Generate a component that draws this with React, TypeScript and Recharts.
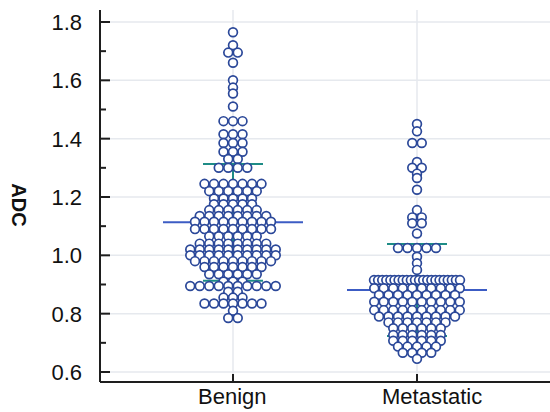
import React from "react";
import { ComposedChart, Scatter, XAxis, YAxis, CartesianGrid } from "recharts";

const categories = ["Benign", "Metastatic"];

// ADC values (equal values form one row)
const benign = [
  1.765, 1.72, 1.695, 1.695, 1.66, 1.6, 1.575, 1.555, 1.51,
  1.46, 1.46, 1.46, 1.415, 1.415, 1.415, 1.385, 1.385, 1.385,
  1.355, 1.355, 1.355, 1.33, 1.33, 1.3, 1.3, 1.3, 1.3,
  1.245, 1.245, 1.245, 1.245, 1.245, 1.245, 1.245,
  1.22, 1.22, 1.22, 1.22, 1.22, 1.22,
  1.195, 1.195, 1.195, 1.195, 1.195,
  1.175, 1.175, 1.175, 1.175, 1.175,
  1.155, 1.155, 1.155, 1.155, 1.155, 1.155,
  1.135, 1.135, 1.135, 1.135, 1.135, 1.135, 1.135, 1.135,
  1.115, 1.115, 1.115, 1.115, 1.115, 1.115, 1.115, 1.115, 1.115,
  1.09, 1.09, 1.09, 1.09, 1.09, 1.09, 1.09, 1.09, 1.09,
  1.065, 1.065, 1.065, 1.065, 1.065, 1.065,
  1.04, 1.04, 1.04, 1.04, 1.04, 1.04, 1.04, 1.04,
  1.02, 1.02, 1.02, 1.02, 1.02, 1.02, 1.02, 1.02, 1.02, 1.02,
  1.0, 1.0, 1.0, 1.0, 1.0, 1.0, 1.0, 1.0, 1.0, 1.0,
  0.98, 0.98, 0.98, 0.98, 0.98, 0.98, 0.98, 0.98, 0.98,
  0.96, 0.96, 0.96, 0.96, 0.96, 0.96, 0.96,
  0.935, 0.935, 0.935, 0.935, 0.935, 0.935,
  0.91, 0.91, 0.91,
  0.895, 0.895, 0.895, 0.895, 0.895, 0.895, 0.895, 0.895, 0.895, 0.895,
  0.875, 0.875, 0.855, 0.855, 0.855,
  0.835, 0.835, 0.835, 0.835, 0.835, 0.835, 0.835,
  0.81, 0.785, 0.785,
];

const metastatic = [
  1.45, 1.425, 1.385, 1.385, 1.32, 1.3, 1.3, 1.28, 1.265, 1.225,
  1.155, 1.13, 1.13, 1.11, 1.11, 1.075,
  1.025, 1.025, 1.025, 1.025, 1.025,
  0.995, 0.973, 0.95,
  0.915, 0.915, 0.915, 0.915, 0.915, 0.915, 0.915, 0.915, 0.915, 0.915, 0.915,
  0.915, 0.915, 0.915, 0.915, 0.915, 0.915, 0.915, 0.915, 0.915, 0.915, 0.915,
  0.887, 0.887, 0.887, 0.887, 0.887, 0.887, 0.887, 0.887, 0.887, 0.887,
  0.864, 0.864, 0.864, 0.864, 0.864, 0.864, 0.864, 0.864, 0.864,
  0.841, 0.841, 0.841, 0.841, 0.841, 0.841, 0.841, 0.841, 0.841, 0.841,
  0.812, 0.812, 0.812, 0.812, 0.812, 0.812, 0.812, 0.812, 0.812, 0.812,
  0.79, 0.79, 0.79, 0.79, 0.79, 0.79, 0.79, 0.79, 0.79,
  0.77, 0.77, 0.77, 0.77, 0.77, 0.77, 0.77,
  0.75, 0.75, 0.75, 0.75, 0.75, 0.75,
  0.727, 0.727, 0.727, 0.727, 0.727, 0.727,
  0.707, 0.707, 0.707, 0.707, 0.707, 0.707,
  0.687, 0.687, 0.687, 0.687, 0.687,
  0.666, 0.666, 0.666, 0.666,
  0.645,
];

// mean and SD as marked on the plot
const means = [1.113, 0.881];
const sds = [0.2, 0.158];

const yTicks = [0.6, 0.7, 0.8, 0.9, 1.0, 1.1, 1.2, 1.3, 1.4, 1.5, 1.6, 1.7, 1.8];
const yMajor = [0.6, 0.8, 1.0, 1.2, 1.4, 1.6, 1.8];

const X_DOMAIN: [number, number] = [0.2772, 2.7228];
const Y_DOMAIN: [number, number] = [0.5657, 1.8411];
const PLOT_W = 450;
const PX_PER_X = PLOT_W / (X_DOMAIN[1] - X_DOMAIN[0]);

const DOT = "#2b4899";
const MEAN = "#3c5cc4";
const SD = "#1e8c86";
const AXIS = "#1e1e1e";
const FONT = "Arial, 'Liberation Sans', sans-serif";

// lay tied values out as centred rows, squeezing rows that get too wide
function dotRows(values: number[], cat: number) {
  const groups = new Map<number, number>();
  values.forEach((v) => groups.set(v, (groups.get(v) || 0) + 1));
  const pts: { x: number; y: number }[] = [];
  groups.forEach((n, v) => {
    const step = n > 1 ? Math.min(9.5, 86 / (n - 1)) : 0;
    for (let i = 0; i < n; i++) {
      const off = (i - (n - 1) / 2) * step;
      pts.push({ x: cat + off / PX_PER_X, y: v });
    }
  });
  return pts;
}

const benignPts = dotRows(benign, 1);
const metaPts = dotRows(metastatic, 2);

// mean line, SD caps and SD stem for each group
const segments = categories.flatMap((_, i) => {
  const c = i + 1;
  const m = means[i];
  const s = sds[i];
  const wide = 70 / PX_PER_X;
  const cap = 30 / PX_PER_X;
  return [
    { color: SD, pts: [{ x: c, y: m - s }, { x: c, y: m + s }] },
    { color: SD, pts: [{ x: c - cap, y: m + s }, { x: c + cap, y: m + s }] },
    { color: SD, pts: [{ x: c - cap, y: m - s }, { x: c + cap, y: m - s }] },
    { color: MEAN, pts: [{ x: c - wide, y: m }, { x: c + wide, y: m }] },
  ];
});

function YTick(props: any) {
  const { x, y, payload } = props;
  const v = payload.value as number;
  const major = Math.round(v * 10) % 2 === 0;
  return (
    <g>
      <line x1={x} x2={x + (major ? 10 : 6)} y1={y} y2={y} stroke={AXIS} strokeWidth={2} />
      {major && (
        <text x={x - 18} y={y} dy="0.36em" textAnchor="end" fontSize={22} fill="#111" fontFamily={FONT}>
          {v.toFixed(1)}
        </text>
      )}
    </g>
  );
}

function XTick(props: any) {
  const { x, y, payload } = props;
  const label = categories[Math.round(payload.value) - 1];
  return (
    <g>
      <line x1={x} x2={x} y1={y} y2={y - 8} stroke={AXIS} strokeWidth={2} />
      <text x={x - 35} y={y + 22} textAnchor="start" fontSize={22} fill="#111" fontFamily={FONT}>
        {label}
      </text>
    </g>
  );
}

const dotShape = (p: any) => (
  <circle cx={p.cx} cy={p.cy} r={4.4} fill="#ffffff" stroke={DOT} strokeWidth={1.7} />
);

export default function App() {
  return (
    <div style={{ position: "fixed", left: 0, top: 0, width: 550, height: 412, background: "#fff" }}>
      <div
        style={{
          position: "absolute",
          left: 18,
          top: 205,
          transform: "translate(-50%, -50%) rotate(90deg)",
          fontFamily: FONT,
          fontWeight: "bold",
          fontSize: 20,
          color: "#111",
          whiteSpace: "nowrap",
        }}
      >
        ADC
      </div>
      <ComposedChart width={550} height={412} margin={{ top: 10, right: 0, bottom: 0, left: 40 }}>
        <CartesianGrid
          stroke="#e6e9ee"
          strokeWidth={1.5}
          horizontalValues={yMajor}
          verticalValues={[1, 2]}
        />
        <XAxis
          type="number"
          dataKey="x"
          domain={X_DOMAIN}
          ticks={[1, 2]}
          interval={0}
          allowDataOverflow
          tickSize={0}
          tickMargin={0}
          height={30}
          axisLine={{ stroke: AXIS, strokeWidth: 2 }}
          tick={<XTick />}
        />
        <YAxis
          type="number"
          dataKey="y"
          domain={Y_DOMAIN}
          ticks={yTicks}
          interval={0}
          allowDataOverflow
          tickSize={0}
          tickMargin={0}
          width={60}
          axisLine={{ stroke: AXIS, strokeWidth: 2 }}
          tick={<YTick />}
        />
        {segments.map((s, i) => (
          <Scatter
            key={`seg${i}`}
            data={s.pts}
            line={{ stroke: s.color, strokeWidth: 2 }}
            shape={() => <g />}
            isAnimationActive={false}
          />
        ))}
        <Scatter data={benignPts} shape={dotShape} isAnimationActive={false} />
        <Scatter data={metaPts} shape={dotShape} isAnimationActive={false} />
      </ComposedChart>
    </div>
  );
}
